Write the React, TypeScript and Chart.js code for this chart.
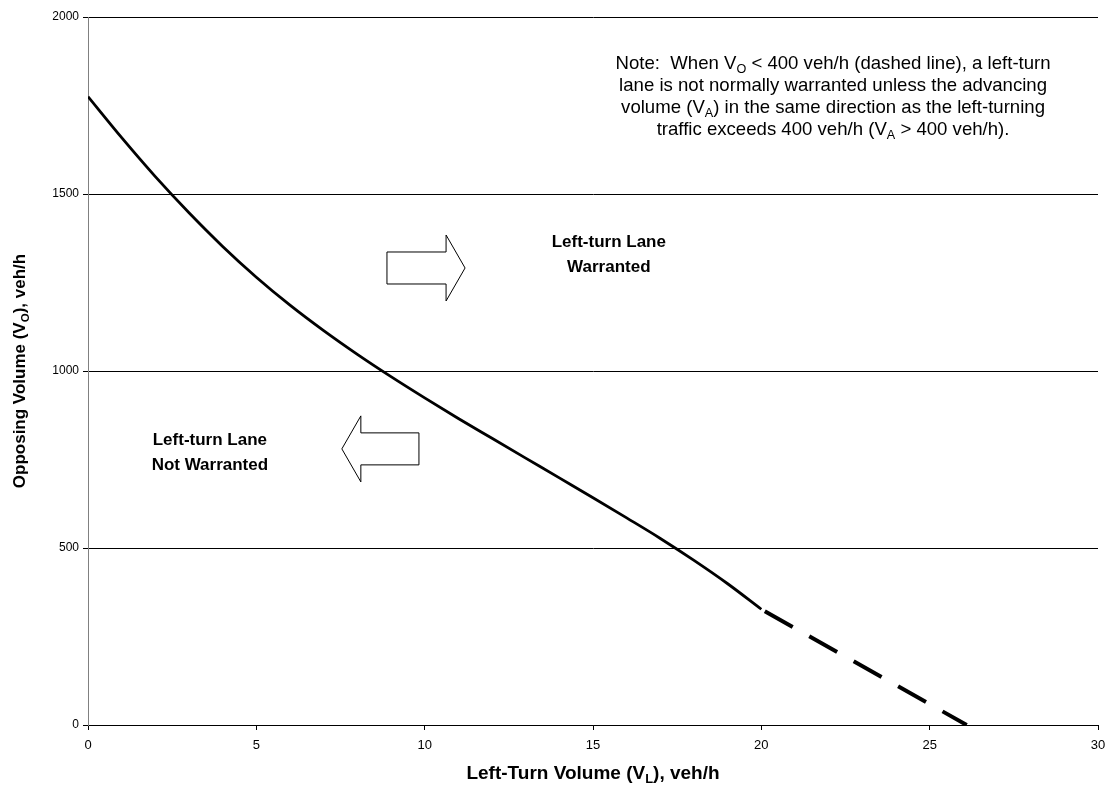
import React, { useEffect, useRef } from 'react';
import { Chart, registerables } from 'chart.js';
Chart.register(...registerables);

// Curve: opposing volume vs left-turn volume
const solidX = [0, 1, 2, 3, 4, 5, 6, 7, 8, 9, 10, 11, 12, 13, 14, 15, 16, 17, 18, 19, 20];
const solidY = [1775, 1659, 1549, 1447, 1352, 1265, 1186, 1114, 1047, 984, 924, 866, 810, 754, 698, 642, 585, 527, 465, 399, 327];
const dashedX = [20, 26.1];
const dashedY = [327, 0];

const xMin = 0, xMax = 30, xStep = 5;
const yMin = 0, yMax = 2000, yStep = 500;

type Seg = { t: string; sub?: boolean };
const xTitle: Seg[] = [{ t: 'Left-Turn Volume (V' }, { t: 'L', sub: true }, { t: '), veh/h' }];
const yTitle: Seg[] = [{ t: 'Opposing Volume (V' }, { t: 'O', sub: true }, { t: '), veh/h' }];
const noteLines: Seg[][] = [
  [{ t: 'Note:  When V' }, { t: 'O', sub: true }, { t: ' < 400 veh/h (dashed line), a left-turn' }],
  [{ t: 'lane is not normally warranted unless the advancing' }],
  [{ t: 'volume (V' }, { t: 'A', sub: true }, { t: ') in the same direction as the left-turning' }],
  [{ t: 'traffic exceeds 400 veh/h (V' }, { t: 'A', sub: true }, { t: ' > 400 veh/h).' }],
];
const regionLabels = [
  { lines: ['Left-turn Lane', 'Warranted'], x: 15.47, y: 1329 },
  { lines: ['Left-turn Lane', 'Not Warranted'], x: 3.62, y: 770 },
];
const arrows = [
  { from: 8.88, to: 11.2, y: 1291 },
  { from: 9.83, to: 7.54, y: 780 },
];
const noteAnchor = { x: 22.13, y: 1872 };

const FONT = '"Liberation Sans", Arial, sans-serif';

function segWidth(ctx: CanvasRenderingContext2D, segs: Seg[], size: number, bold: boolean) {
  let w = 0;
  for (const s of segs) {
    ctx.font = `${bold ? 'bold ' : ''}${s.sub ? size * 0.68 : size}px ${FONT}`;
    w += ctx.measureText(s.t).width;
  }
  return w;
}
function drawSegs(ctx: CanvasRenderingContext2D, segs: Seg[], cx: number, baseline: number, size: number, bold: boolean) {
  const w = segWidth(ctx, segs, size, bold);
  let x = cx - w / 2;
  ctx.textAlign = 'left';
  ctx.textBaseline = 'alphabetic';
  for (const s of segs) {
    ctx.font = `${bold ? 'bold ' : ''}${s.sub ? size * 0.68 : size}px ${FONT}`;
    ctx.fillText(s.t, x, baseline + (s.sub ? size * 0.22 : 0));
    x += ctx.measureText(s.t).width;
  }
}

const overlay = {
  id: 'overlay',
  afterDatasetsDraw(chart: any) {
    const ctx: CanvasRenderingContext2D = chart.ctx;
    const xs = chart.scales.x, ys = chart.scales.y;
    const area = chart.chartArea;
    ctx.save();
    // arrows
    for (const a of arrows) {
      const x0 = xs.getPixelForValue(a.from);
      const x1 = xs.getPixelForValue(a.to);
      const yc = ys.getPixelForValue(a.y);
      const dir = Math.sign(x1 - x0);
      const headLen = 19, bodyH = 16, headH = 33;
      const xb = x1 - dir * headLen;
      ctx.beginPath();
      ctx.moveTo(x0, yc - bodyH);
      ctx.lineTo(xb, yc - bodyH);
      ctx.lineTo(xb, yc - headH);
      ctx.lineTo(x1, yc);
      ctx.lineTo(xb, yc + headH);
      ctx.lineTo(xb, yc + bodyH);
      ctx.lineTo(x0, yc + bodyH);
      ctx.closePath();
      ctx.fillStyle = '#fff';
      ctx.fill();
      ctx.strokeStyle = '#000';
      ctx.lineWidth = 1;
      ctx.stroke();
    }
    ctx.fillStyle = '#000';
    // region labels
    for (const r of regionLabels) {
      const cx = xs.getPixelForValue(r.x);
      const cy = ys.getPixelForValue(r.y);
      ctx.font = `bold 17px ${FONT}`;
      ctx.textAlign = 'center';
      ctx.textBaseline = 'middle';
      ctx.fillText(r.lines[0], cx, cy - 12.5);
      ctx.fillText(r.lines[1], cx, cy + 12.5);
    }
    // note
    const nx = xs.getPixelForValue(noteAnchor.x);
    const ny = ys.getPixelForValue(noteAnchor.y);
    noteLines.forEach((l, i) => drawSegs(ctx, l, nx, ny + 7 + i * 22, 18.6, false));
    // axis titles
    drawSegs(ctx, xTitle, (area.left + area.right) / 2, 779, 19, true);
    ctx.save();
    ctx.translate(25, (area.top + area.bottom) / 2);
    ctx.rotate(-Math.PI / 2);
    drawSegs(ctx, yTitle, 0, 0, 17, true);
    ctx.restore();
    ctx.restore();
  },
};

export default function App() {
  const ref = useRef<HTMLCanvasElement>(null);
  useEffect(() => {
    document.body.style.margin = '0';
    const solid = solidX.map((x, i) => ({ x, y: solidY[i] }));
    const dashed = dashedX.map((x, i) => ({ x, y: dashedY[i] }));
    const chart = new Chart(ref.current!, {
      type: 'line',
      data: {
        datasets: [
          { data: solid, borderColor: '#000', borderWidth: 2.8, pointRadius: 0, cubicInterpolationMode: 'monotone', fill: false },
          { data: dashed, borderColor: '#000', borderWidth: 4, borderDash: [32, 19], borderDashOffset: -4, pointRadius: 0, fill: false },
        ],
      },
      options: {
        animation: false,
        responsive: false,
        layout: { padding: { top: 17, right: 16, left: 0, bottom: 0 } },
        plugins: { legend: { display: false }, tooltip: { enabled: false } },
        scales: {
          x: {
            type: 'linear', min: xMin, max: xMax,
            ticks: { stepSize: xStep, color: '#000', font: { family: FONT, size: 13 }, padding: 8, maxRotation: 0, callback: (v: any) => String(v) },
            grid: { drawOnChartArea: false, drawTicks: true, tickLength: 5, color: '#000' },
            border: { color: '#000', width: 1 },
            afterFit: (s: any) => { s.height = 60; },
          },
          y: {
            type: 'linear', min: yMin, max: yMax,
            ticks: { stepSize: yStep, color: '#000', font: { family: FONT, size: 12 }, padding: 4, callback: (v: any) => String(v) },
            grid: { color: '#000', lineWidth: 1, drawTicks: true, tickLength: 5, tickColor: '#000' },
            border: { color: '#808080', width: 1 },
            afterFit: (s: any) => { s.width = 88; },
          },
        },
      },
      plugins: [overlay],
    });
    return () => chart.destroy();
  }, []);
  return <canvas ref={ref} width={1114} height={785} style={{ display: 'block' }} />;
}
